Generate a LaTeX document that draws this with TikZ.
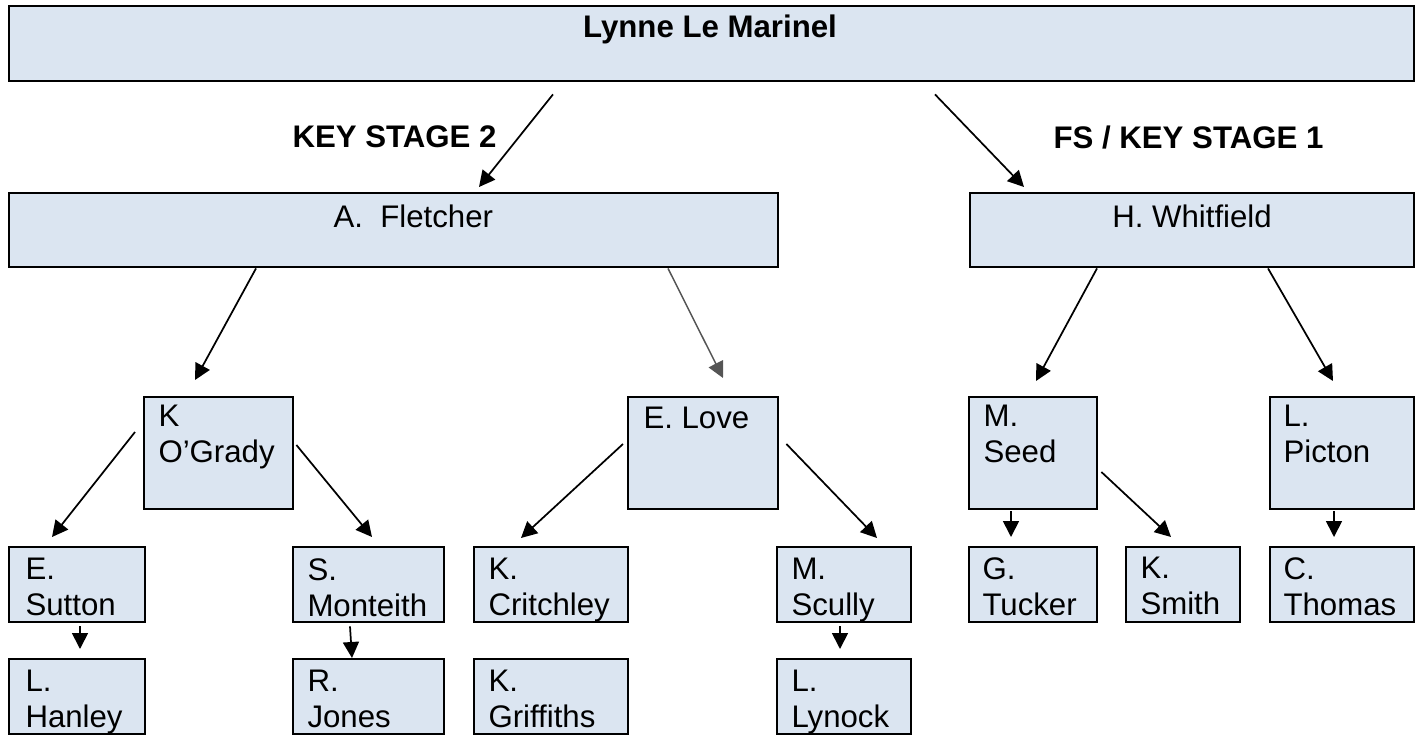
\documentclass[tikz,border=0pt]{standalone}
\usepackage{fontspec}
\setmainfont{Liberation Sans}
\usetikzlibrary{arrows.meta,calc}
\definecolor{boxfill}{HTML}{DBE5F1}
\definecolor{greyarrow}{RGB}{85,85,85}

\tikzset{every picture/.style={line width=0.75pt}}
\tikzset{
	staffbox/.style={draw, line width=1.8pt, fill=boxfill, anchor=north west, inner sep=0pt},
	sz/.style 2 args={minimum width=#1*0.75pt, minimum height=#2*0.75pt},
	staff/.style={anchor=north west, inner sep=0pt, align=left, font=\fontsize{23.4}{27}\selectfont},
	bold/.style={font=\fontsize{23.4}{27}\selectfont\bfseries},
	link/.style={-{Triangle[length=12pt,width=12pt]}, line width=1.3pt},
}

\begin{document}
\begin{tikzpicture}[x=0.75pt,y=0.75pt,yscale=-1,xscale=1]
			\useasboundingbox (0,0) rectangle (1421,735);
			
			%Shape: Rectangles
			\node[staffbox, sz={1405}{75}] (top) at (8,5) {};
			\node[staffbox, sz={769}{74}] (fl) at (8,192) {};
			\node[staffbox, sz={444}{74}] (hw) at (969,192) {};
			\node[staffbox, sz={149}{112}] (og) at (143,396) {};
			\node[staffbox, sz={150}{112}] (love) at (627,396) {};
			\node[staffbox, sz={128}{112}] (seed) at (968,396) {};
			\node[staffbox, sz={144}{112}] (picton) at (1269,396) {};
			\node[staffbox, sz={136}{75}] (sutton) at (8,546) {};
			\node[staffbox, sz={136}{75}] (hanley) at (8,658) {};
			\node[staffbox, sz={151}{75}] (monteith) at (292,546) {};
			\node[staffbox, sz={151}{75}] (jones) at (292,658) {};
			\node[staffbox, sz={154}{75}] (critchley) at (473,546) {};
			\node[staffbox, sz={154}{75}] (griffiths) at (473,658) {};
			\node[staffbox, sz={134}{75}] (scully) at (776,546) {};
			\node[staffbox, sz={134}{75}] (lynock) at (776,658) {};
			\node[staffbox, sz={128}{75}] (tucker) at (968,546) {};
			\node[staffbox, sz={114}{75}] (smith) at (1125,546) {};
			\node[staffbox, sz={144}{75}] (thomas) at (1269,546) {};
			
			% Text Node
			\node[staff, bold, anchor=north] (top-t) at (710,14) {Lynne Le Marinel};
			\node[staff, bold, anchor=north east] (ks2) at (497,125) {KEY STAGE 2};
			\node[staff, bold] (ks1) at (1053,125) {FS / KEY STAGE 1};
			\node[staff] (fl-t) at (333,204) {A.\ \ Fletcher};
			\node[staff, anchor=north] (hw-t) at (1192,204) {H. Whitfield};
			\node[staff] (og-t) at (158,405) {K\\O’Grady};
			\node[staff] (love-t) at (643,407) {E. Love};
			\node[staff] (seed-t) at (983,405) {M.\\Seed};
			\node[staff] (picton-t) at (1283,405) {L.\\Picton};
			\node[staff] (sutton-t) at (25,558) {E.\\Sutton};
			\node[staff] (hanley-t) at (25,670) {L.\\Hanley};
			\node[staff] (monteith-t) at (307,558) {S.\\Monteith};
			\node[staff] (jones-t) at (307,670) {R.\\Jones};
			\node[staff] (critchley-t) at (488,558) {K.\\Critchley};
			\node[staff] (griffiths-t) at (488,670) {K.\\Griffiths};
			\node[staff] (scully-t) at (791,558) {M.\\Scully};
			\node[staff] (lynock-t) at (791,670) {L.\\Lynock};
			\node[staff] (tucker-t) at (982,557) {G.\\Tucker};
			\node[staff] (smith-t) at (1140,557) {K.\\Smith};
			\node[staff] (thomas-t) at (1283,557) {C.\\Thomas};
			
			%Straight Lines
			\draw[link] ($(top.south west)+(545,12)$) -- ($(fl.north west)+(471,-5)$);
			\draw[link] ($(top.south west)+(927,12)$) -- ($(hw.north west)+(55,-5)$);
			\draw[link] ($(fl.south west)+(248,0)$) -- ($(og.north west)+(52,-16)$);
			\draw[link, greyarrow, line width=1.1pt] ($(fl.south west)+(660,0)$) -- ($(love.north west)+(96,-18)$);
			\draw[link] ($(hw.south west)+(128,0)$) -- ($(seed.north west)+(68,-15)$);
			\draw[link] ($(hw.south west)+(299,0)$) -- ($(picton.north west)+(64,-15)$);
			\draw[link] ($(og.north west)+(-8,36)$) -- ($(sutton.north west)+(44,-9)$);
			\draw[link] ($(og.north east)+(2,49)$) -- ($(monteith.north west)+(80,-9)$);
			\draw[link] ($(love.north west)+(-4,48)$) -- ($(critchley.north west)+(48,-8)$);
			\draw[link] ($(love.north east)+(7,48)$) -- ($(scully.north west)+(101,-8)$);
			\draw[link] ($(sutton.south west)+(72,3)$) -- ($(hanley.north west)+(72,-9)$);
			\draw[link] ($(monteith.south west)+(58,3)$) -- ($(jones.north west)+(60,0)$);
			\draw[link] ($(scully.south west)+(64,3)$) -- ($(lynock.north west)+(64,-9)$);
			\draw[link] ($(seed.south west)+(43,1)$) -- ($(tucker.north west)+(43,-9)$);
			\draw[link] ($(seed.north east)+(3,76)$) -- ($(smith.north west)+(46,-9)$);
			\draw[link] ($(picton.south west)+(65,1)$) -- ($(thomas.north west)+(65,-9)$);
			
\end{tikzpicture}
\end{document}
